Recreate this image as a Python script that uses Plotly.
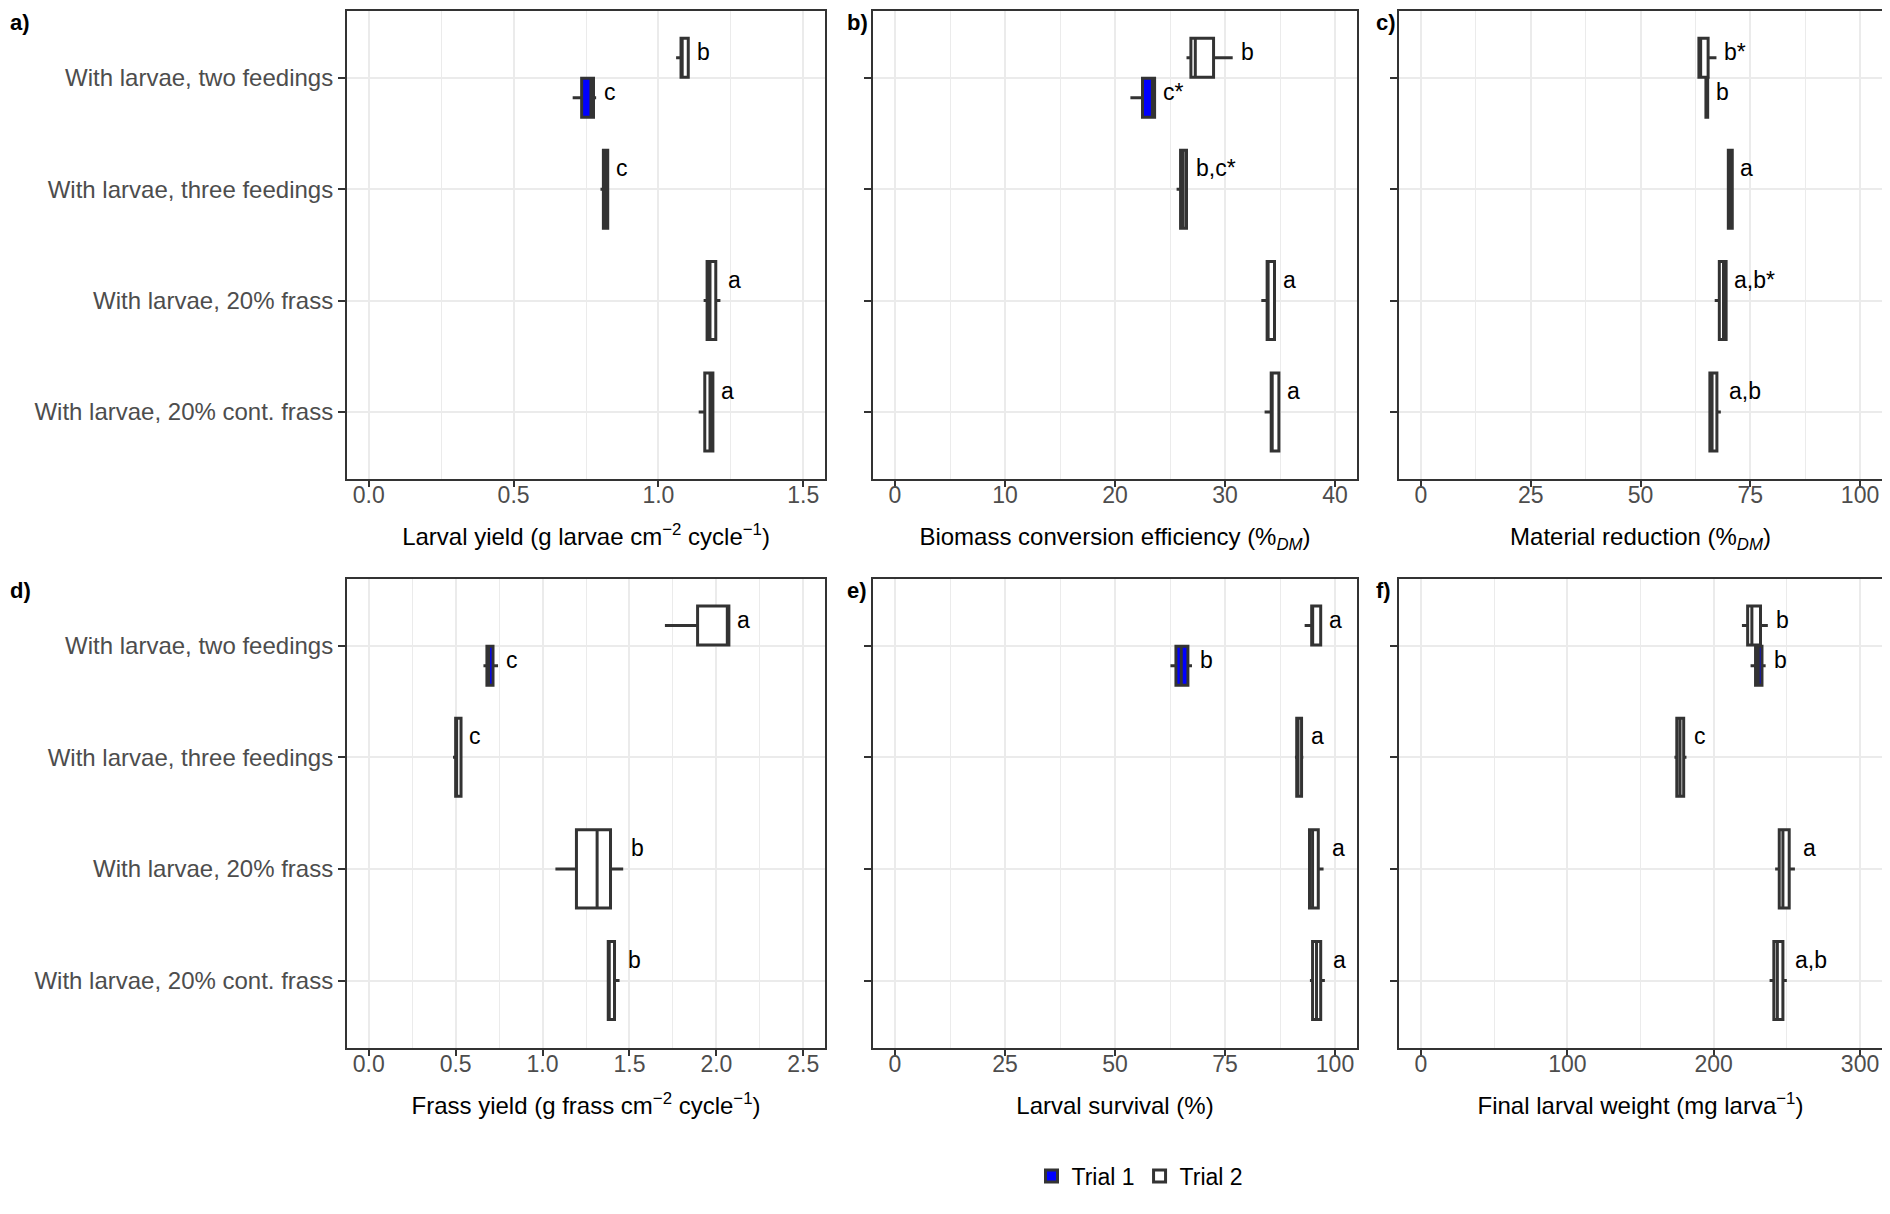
import plotly.graph_objects as go
from plotly.subplots import make_subplots

treatments = ["With larvae, two feedings", "With larvae, three feedings",
              "With larvae, 20% frass", "With larvae, 20% cont. frass"]

# box statistics: [lower whisker, q1, median, q3, upper whisker]
# trial 1 only exists for "two feedings"; trial 2 for all four treatments
yield_t1 = [0.704, 0.735, 0.767, 0.776, 0.785]
yield_t2 = [[1.061, 1.078, 1.082, 1.103, 1.104],
            [0.800, 0.810, 0.817, 0.825, 0.826],
            [1.156, 1.168, 1.178, 1.198, 1.214],
            [1.139, 1.160, 1.178, 1.188, 1.190]]
yield_letters = ["c", "b", "c", "a", "a"]

bce_t1 = [21.4, 22.5, 23.4, 23.6, 23.6]
bce_t2 = [[26.5, 26.9, 27.3, 28.96, 30.7],
          [25.6, 25.96, 26.2, 26.5, 26.6],
          [33.3, 33.83, 33.9, 34.5, 34.5],
          [33.6, 34.2, 34.25, 34.9, 34.9]]
bce_letters = ["c*", "b", "b,c*", "a", "a"]

reduction_t1 = [64.9, 64.9, 65.1, 65.3, 65.3]
reduction_t2 = [[63.3, 63.3, 63.7, 65.4, 67.3],
                [70.0, 70.0, 70.3, 70.9, 70.9],
                [66.9, 67.95, 68.9, 69.5, 69.5],
                [65.5, 65.8, 66.3, 67.4, 68.3]]
reduction_letters = ["b", "b*", "a", "a,b*", "a,b"]

frass_t1 = [0.66, 0.68, 0.69, 0.715, 0.744]
frass_t2 = [[1.704, 1.892, 2.063, 2.072, 2.072],
            [0.485, 0.50, 0.505, 0.531, 0.531],
            [1.074, 1.195, 1.314, 1.391, 1.464],
            [1.378, 1.378, 1.38, 1.414, 1.443]]
frass_letters = ["c", "a", "c", "b", "b"]

survival_t1 = [62.6, 63.85, 65.06, 66.57, 67.5]
survival_t2 = [[93.1, 94.7, 94.8, 96.75, 96.75],
               [90.9, 91.3, 91.6, 92.4, 92.8],
               [94.2, 94.2, 94.9, 96.2, 97.4],
               [94.3, 94.9, 95.8, 96.75, 97.7]]
survival_letters = ["b", "a", "a", "a", "a"]

weight_t1 = [225.2, 228.6, 230.5, 233.0, 235.5]
weight_t2 = [[219.3, 223.2, 226.1, 232.0, 237.0],
             [173.2, 174.8, 177.0, 179.5, 181.4],
             [242.0, 244.8, 247.3, 251.6, 255.5],
             [238.2, 241.1, 243.5, 247.3, 250.0]]
weight_letters = ["b", "b", "c", "a", "a,b"]

titles = ["Larval yield (g larvae cm<sup>\u22122</sup> cycle<sup>\u22121</sup>)",
          "Biomass conversion efficiency (%<sub><i>DM</i></sub>)",
          "Material reduction (%<sub><i>DM</i></sub>)",
          "Frass yield (g frass cm<sup>\u22122</sup> cycle<sup>\u22121</sup>)",
          "Larval survival (%)",
          "Final larval weight (mg larva<sup>\u22121</sup>)"]
x_ranges = [[-0.075, 1.575], [-2, 42], [-5, 105], [-0.125, 2.625], [-5, 105], [-15, 315]]
x_dticks = [0.5, 10, 25, 0.5, 25, 100]
x_formats = [".1f", "d", "d", ".1f", "d", "d"]
panel_tags = ["a)", "b)", "c)", "d)", "e)", "f)"]

panels = [(yield_t1, yield_t2, yield_letters), (bce_t1, bce_t2, bce_letters),
          (reduction_t1, reduction_t2, reduction_letters), (frass_t1, frass_t2, frass_letters),
          (survival_t1, survival_t2, survival_letters), (weight_t1, weight_t2, weight_letters)]

# the page body adds an 8px margin, so the figure is drawn 8px in from the window edge;
# keep the figure a little shorter than the window so the page never scrolls
OFF = 8
W, H = 1890 - 2 * OFF, 1190
col_px = [(347 - OFF, 825 - OFF), (873 - OFF, 1357 - OFF), (1399 - OFF, 1882 - OFF)]
row_px = [(11 - OFF, 484 - OFF), (585 - OFF, 1059 - OFF)]
tag_x = [0, 845 - OFF, 1374 - OFF]
FONT = "Liberation Sans, Arial, sans-serif"
DARK = "#333333"
GRID = "#EBEBEB"
BLUE = "#0000FF"
FS = 24

n = len(treatments)
pos = [n - i for i in range(n)]
dodge = 0.18
box_w = 0.7

fig = make_subplots(rows=2, cols=3)


def box(stats, y, width, fill, name, show):
    return go.Box(orientation="h", y=y,
                  lowerfence=[s[0] for s in stats], q1=[s[1] for s in stats],
                  median=[s[2] for s in stats], q3=[s[3] for s in stats],
                  upperfence=[s[4] for s in stats],
                  width=width, fillcolor=fill, line=dict(color=DARK, width=3),
                  whiskerwidth=0, boxpoints=False, name=name, legendgroup=name,
                  showlegend=show, hoverinfo="skip")


annotations = []
for k, (t1, t2, letters) in enumerate(panels):
    r, c = k // 3 + 1, k % 3 + 1
    fig.add_trace(box([t2[0]], [pos[0] + dodge], box_w / 2, "white", "Trial 2", False), row=r, col=c)
    fig.add_trace(box([t1], [pos[0] - dodge], box_w / 2, BLUE, "Trial 1", k == 0), row=r, col=c)
    fig.add_trace(box(t2[1:], pos[1:], box_w, "white", "Trial 2", k == 0), row=r, col=c)

    ax = "" if k == 0 else str(k + 1)
    # letters: trial 1, trial 2 two feedings, then the single boxes
    label_pts = [(t1[4], pos[0] - dodge, 6), (t2[0][4], pos[0] + dodge, 6)]
    label_pts += [(t2[i][4], pos[i], 21) for i in range(1, n)]
    for (xv, yv, ys), txt in zip(label_pts, letters):
        annotations.append(dict(x=xv, y=yv, xref="x" + ax, yref="y" + ax, text=txt,
                                showarrow=False, xanchor="left", yanchor="middle",
                                xshift=6, yshift=ys, font=dict(size=FS - 1, color="black")))
    x0, x1 = col_px[c - 1]
    y0, y1 = row_px[r - 1]
    annotations.append(dict(x=tag_x[c - 1] / W, y=min(1.0, 1 - (y0 - 3) / H),
                            xref="paper", yref="paper",
                            text="<b>" + panel_tags[k] + "</b>", showarrow=False,
                            xanchor="left", yanchor="top", font=dict(size=FS - 2, color="black")))

    fig.update_xaxes(domain=[x0 / W, x1 / W], range=x_ranges[k], dtick=x_dticks[k], tick0=0,
                     tickformat=x_formats[k], showgrid=True, gridcolor=GRID, gridwidth=2,
                     minor=dict(dtick=x_dticks[k] / 2, tick0=0, showgrid=True, gridcolor=GRID,
                                gridwidth=1),
                     zeroline=False, showline=True, mirror=True, linecolor=DARK, linewidth=2,
                     ticks="outside", ticklen=6, tickwidth=2, tickcolor=DARK,
                     ticklabelstandoff=-11,
                     tickfont=dict(size=FS - 1, color="#4D4D4D"),
                     title=dict(text=titles[k], font=dict(size=FS, color="black"), standoff=21),
                     row=r, col=c)
    fig.update_yaxes(domain=[1 - y1 / H, 1 - y0 / H], range=[0.4, n + 0.6],
                     tickvals=pos, ticktext=treatments, showticklabels=(c == 1),
                     showgrid=True, gridcolor=GRID, gridwidth=2, zeroline=False,
                     showline=True, mirror=True, linecolor=DARK, linewidth=2,
                     ticks="outside", ticklen=7, tickwidth=2, tickcolor=DARK,
                     tickfont=dict(size=FS, color="#4D4D4D"), row=r, col=c)

fig.update_layout(
    template="none", width=W, height=H, boxmode="overlay",
    margin=dict(l=0, r=0, t=0, b=0),
    paper_bgcolor="white", plot_bgcolor="white",
    font=dict(family=FONT, size=FS, color="black"),
    annotations=annotations,
    legend=dict(orientation="h", x=(1140 - OFF) / W, xanchor="center",
                y=(H - 1181) / H, yanchor="middle",
                font=dict(size=FS - 1, color="black"), traceorder="normal"),
)

fig.write_html("out.html")
